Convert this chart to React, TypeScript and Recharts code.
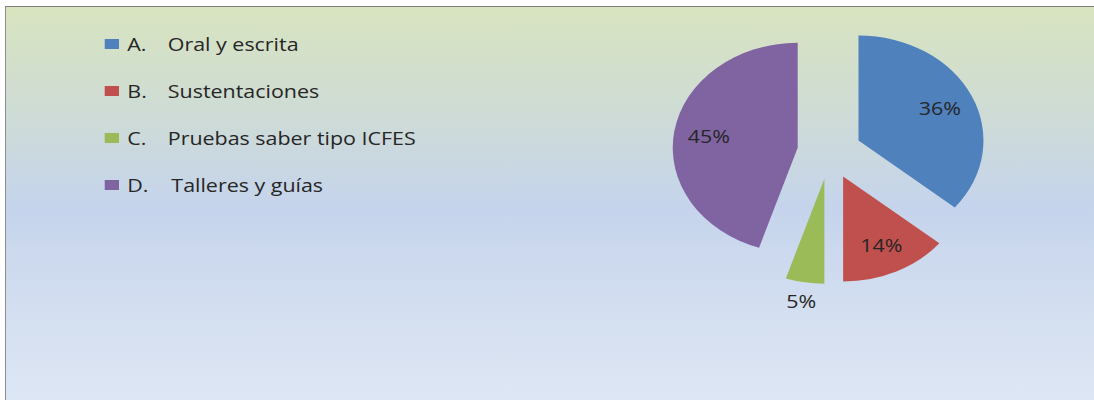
import { PieChart, Pie, Cell } from "recharts";

const letters = ["A.", "B.", "C.", "D."];
const names = ["Oral y escrita", "Sustentaciones", "Pruebas saber tipo ICFES", "Talleres y guías"];
const values = [36, 14, 5, 45];
const colors = ["#4f81bd", "#c0504d", "#9bbb59", "#8064a2"];

const data = names.map((name, i) => ({ name, letter: letters[i], value: values[i] }));

// the source picture is stretched horizontally, so draw narrow and scale x
const SX = 1.19;
const W = Math.round(1094 / SX);
const CX = 697;
const CY = 152;
const R = 105;
const EXPLODE = 27;
const FONT = "'Open Sans', sans-serif";
const RAD = Math.PI / 180;

const total = values.reduce((a, b) => a + b, 0);
let acc = 0;
const offsets = values.map((v) => {
  const mid = ((acc + v / 2) / total) * 360;
  acc += v;
  return { dx: EXPLODE * Math.sin(mid * RAD), dy: -EXPLODE * Math.cos(mid * RAD) };
});

const makeLabel = (k: number) => (props: any) => {
  const { cx, cy, midAngle, outerRadius, percent, index } = props;
  if (index !== k) return null;
  const r = percent < 0.1 ? outerRadius + 19 : outerRadius * 0.72;
  const x = cx + r * Math.cos(-midAngle * RAD);
  const y = cy + r * Math.sin(-midAngle * RAD);
  return (
    <text x={x} y={y} fill="#262626" fontSize={18} fontFamily={FONT} textAnchor="middle" dominantBaseline="central">
      {Math.round(percent * 100)}%
    </text>
  );
};

const LegendBox = () => (
  <div style={{ position: "absolute", left: 88, top: 20, width: 300, fontFamily: FONT, fontSize: 18, color: "#262626" }}>
    {data.map((d, i) => (
      <div key={d.name} style={{ position: "relative", height: 47, display: "flex", alignItems: "center" }}>
        <span style={{ width: 12, height: 10, background: colors[i], display: "inline-block" }} />
        <span style={{ position: "absolute", left: 19 }}>{d.letter}</span>
        <span style={{ position: "absolute", left: i === 3 ? 56 : 53 }}>{d.name}</span>
      </div>
    ))}
  </div>
);

export default function App() {
  return (
    <div style={{ position: "absolute", left: 0, top: 0, width: 1094, height: 400, overflow: "hidden", background: "#fff" }}>
      <div
        style={{
          position: "absolute",
          left: 5,
          top: 6,
          width: 1100,
          height: 400,
          borderTop: "1px solid #7f7f7f",
          borderLeft: "1px solid #8c8c8c",
          background: "linear-gradient(to bottom, #d8e4bf 0%, #cfdcd4 25%, #c5d4ec 50%, #d3def0 75%, #dee7f4 100%)",
        }}
      />
      <div style={{ position: "absolute", left: 0, top: 0, width: W, height: 400, transform: `scaleX(${SX})`, transformOrigin: "0 0" }}>
        <LegendBox />
        <div style={{ position: "absolute", left: 0, top: 0 }}>
          <PieChart width={W} height={400} margin={{ top: 0, right: 0, bottom: 0, left: 0 }}>
            {values.map((_, k) => (
              <Pie
                key={k}
                data={data}
                dataKey="value"
                nameKey="name"
                cx={CX + offsets[k].dx}
                cy={CY + offsets[k].dy}
                outerRadius={R}
                startAngle={90}
                endAngle={-270}
                stroke="none"
                labelLine={false}
                label={makeLabel(k)}
                isAnimationActive={false}
              >
                {data.map((d, i) => (
                  <Cell key={d.name} fill={i === k ? colors[i] : "transparent"} />
                ))}
              </Pie>
            ))}
          </PieChart>
        </div>
      </div>
    </div>
  );
}
